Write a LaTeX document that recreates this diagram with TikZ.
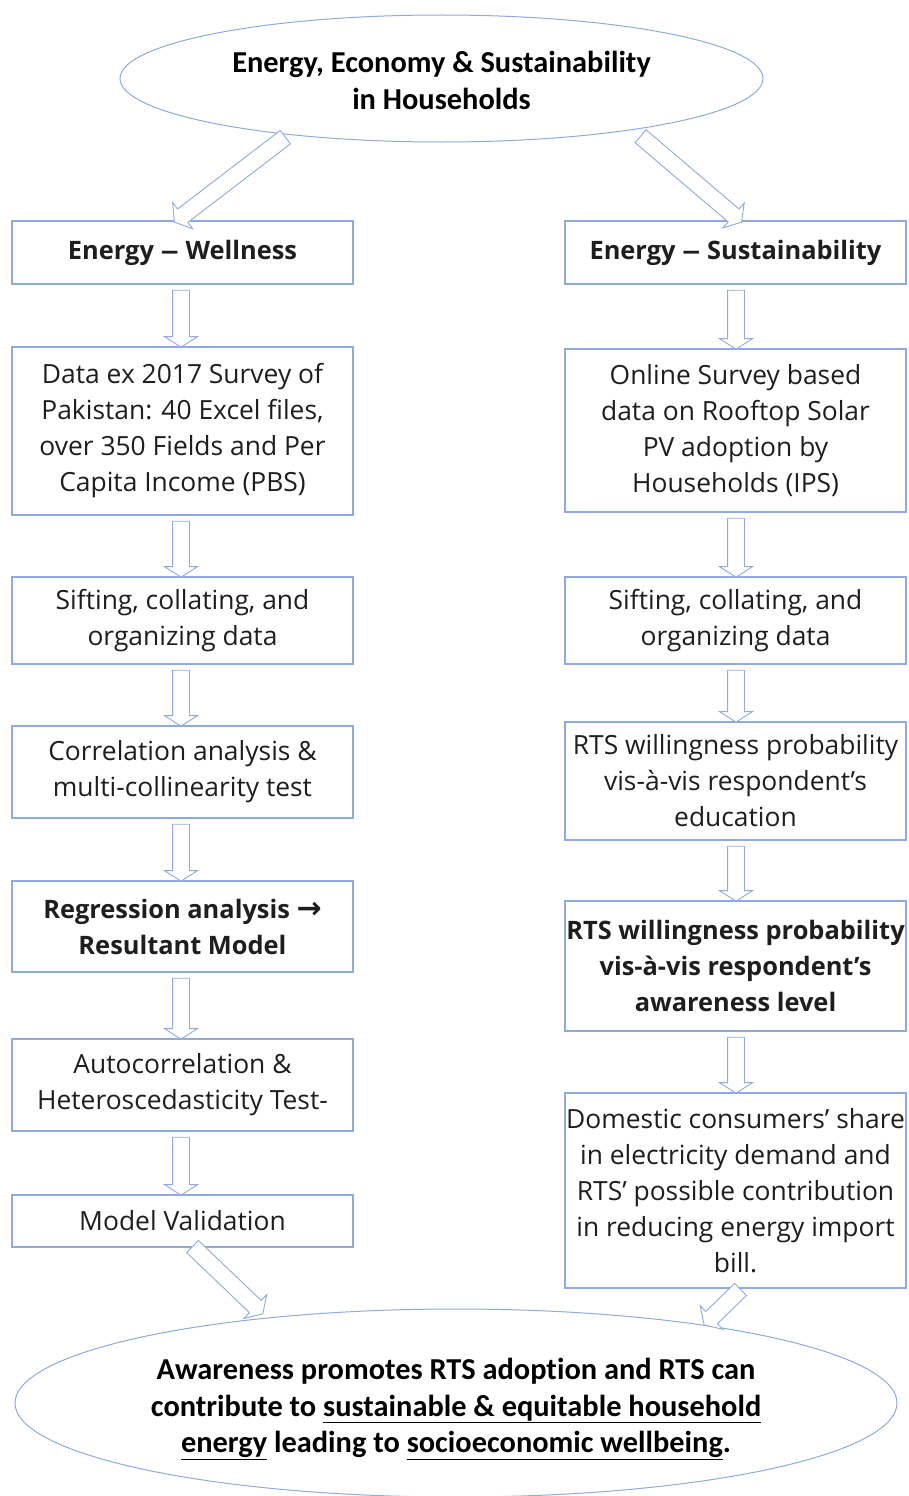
\documentclass[tikz,border=0pt]{standalone}
\usepackage{fontspec}
\setmainfont{Open Sans}
\newfontfamily\headfont{Carlito}[Ligatures=NoCommon]
\newfontfamily\symfont{DejaVu Sans}
\usetikzlibrary{shapes.geometric,shapes.arrows,calc}

\definecolor{lineblue}{RGB}{143,170,220}
\definecolor{inkgrey}{RGB}{30,30,30}

% wider dash for the column titles
\newcommand\wdash{\scalebox{1.45}[1]{–}}

\tikzset{
  box/.style={draw=lineblue, line width=1.1pt, rectangle, align=center,
    minimum width=341pt, inner sep=0pt, text=inkgrey,
    font=\fontsize{26.4}{36}\selectfont},
  boldbox/.style={box, font=\fontsize{25.4}{36}\selectfont\bfseries},
  oval/.style={draw=lineblue, line width=1pt, ellipse, inner sep=0pt},
  ovaltext/.style={align=center, inner sep=0pt, text=black,
    font=\headfont\bfseries\fontsize{30.4}{37}\selectfont},
  blockarr/.style={single arrow, draw=lineblue, fill=white, line width=0.9pt,
    inner xsep=0pt, inner ysep=8pt, single arrow head extend=8pt,
    single arrow tip angle=115},
}

% hollow block arrow between two points, named #1
\newcommand\flowarrow[3]{%
  \path let \p1=#2, \p2=#3,
    \n1={atan2(\y2-\y1,\x2-\x1)}, \n2={veclen(\x2-\x1,\y2-\y1)} in
    node[blockarr, minimum height=\n2, rotate=\n1] (#1) at ($(\p1)!0.5!(\p2)$) {};}

\begin{document}
\begin{tikzpicture}[x=1pt,y=-1pt]
\useasboundingbox (0,0) rectangle (909,1496);

% top and bottom ellipses
\node[oval, minimum width=643pt, minimum height=127pt] (top) at (441.5,78.5) {};
\node[ovaltext] (toptext) at (441.5,80.5)
  {Energy, Economy \& Sustainability\\in Households};
\node[oval, minimum width=882pt, minimum height=188pt] (goal) at (456,1403) {};
\node[ovaltext, font=\headfont\bfseries\fontsize{30.4}{36.5}\selectfont] (goaltext) at (456,1409)
  {Awareness promotes RTS adoption and RTS can\\
   contribute to \underline{sustainable \& equitable household\vphantom{gy}}\\
   \underline{energy\vphantom{gy}} leading to \underline{socioeconomic wellbeing\vphantom{gy}}.};

% left column: energy and wellness
\node[boldbox, minimum height=63pt] (l1) at (182.5,252.5) {Energy \wdash{} Wellness};
\node[box, minimum height=168pt] (l2) at (182.5,431)
  {Data ex 2017 Survey of\\Pakistan: 40 Excel files,\\over 350 Fields and Per\\Capita Income (PBS)};
\node[box, minimum height=87pt] (l3) at (182.5,620.5)
  {Sifting, collating, and\\organizing data};
\node[box, minimum height=92pt] (l4) at (182.5,772)
  {Correlation analysis \&\\multi-collinearity test};
\node[boldbox, minimum height=91pt] (l5) at (182.5,926.5)
  {Regression analysis {\symfont\bfseries\fontsize{30}{36}\selectfont →}\\Resultant Model};
\node[box, minimum height=92pt] (l6) at (182.5,1085)
  {Autocorrelation \&\\Heteroscedasticity Test-};
\node[box, minimum height=52pt] (l7) at (182.5,1221) {Model Validation};

% right column: energy and sustainability
\node[boldbox, minimum height=63pt] (r1) at (735.5,252.5) {Energy \wdash{} Sustainability};
\node[box, minimum height=163pt] (r2) at (735.5,430.5)
  {Online Survey based\\data on Rooftop Solar\\PV adoption by\\Households (IPS)};
\node[box, minimum height=87pt] (r3) at (735.5,620.5)
  {Sifting, collating, and\\organizing data};
\node[box, minimum height=118pt] (r4) at (735.5,781)
  {RTS willingness probability\\vis-à-vis respondent’s\\education};
\node[boldbox, minimum height=130pt] (r5) at (735.5,966)
  {RTS willingness probability\\vis-à-vis respondent’s\\awareness level};
\node[box, minimum height=195pt] (r6) at (735.5,1190.5)
  {Domestic consumers’ share\\in electricity demand and\\RTS’ possible contribution\\in reducing energy import\\bill.};

% arrows from the top ellipse
\flowarrow{a0}{($(top.center)+(-154,57)$)}{($(l1.north)+(-6,0)$)}
\flowarrow{b0}{($(top.center)+(197,56)$)}{($(r1.north)+(4,0)$)}

% left column arrows
\flowarrow{a1}{($(l1.south)+(-1.5,3)$)}{($(l2.north)+(-1.5,-2)$)}
\flowarrow{a2}{($(l2.south)+(-1.5,3)$)}{($(l3.north)+(-1.5,-2)$)}
\flowarrow{a3}{($(l3.south)+(-1.5,3)$)}{($(l4.north)+(-1.5,-2)$)}
\flowarrow{a4}{($(l4.south)+(-1.5,3)$)}{($(l5.north)+(-1.5,-2)$)}
\flowarrow{a5}{($(l5.south)+(-1.5,3)$)}{($(l6.north)+(-1.5,-2)$)}
\flowarrow{a6}{($(l6.south)+(-1.5,3)$)}{($(l7.north)+(-1.5,-2)$)}

% right column arrows
\flowarrow{b1}{($(r1.south)+(0.5,3)$)}{($(r2.north)+(0.5,-2)$)}
\flowarrow{b2}{($(r2.south)+(0.5,3)$)}{($(r3.north)+(0.5,-2)$)}
\flowarrow{b3}{($(r3.south)+(0.5,3)$)}{($(r4.north)+(0.5,-2)$)}
\flowarrow{b4}{($(r4.south)+(0.5,3)$)}{($(r5.north)+(0.5,-2)$)}
\flowarrow{b5}{($(r5.south)+(0.5,3)$)}{($(r6.north)+(0.5,-2)$)}

% arrows into the bottom ellipse
\flowarrow{a7}{($(l7.south)+(8,-3)$)}{($(goal.center)+(-195,-91)$)}
\flowarrow{b6}{($(r6.south)+(7,-1)$)}{($(goal.center)+(250,-80)$)}
\end{tikzpicture}
\end{document}
